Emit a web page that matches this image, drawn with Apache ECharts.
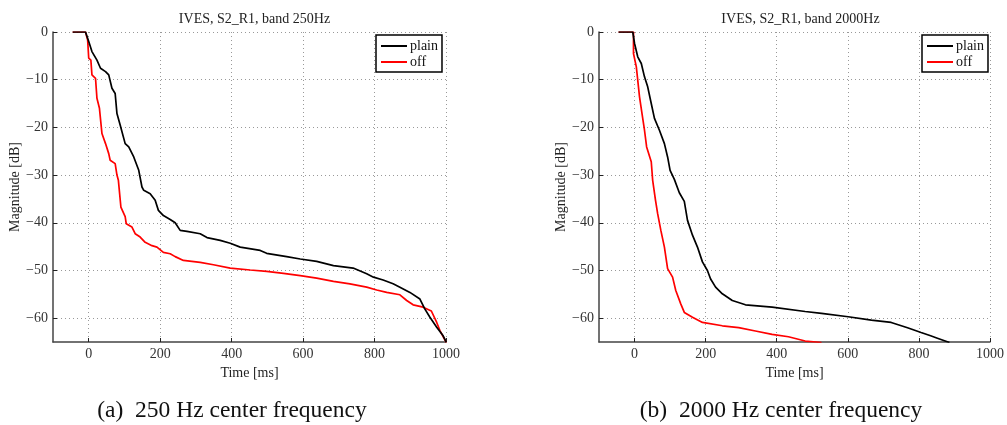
<!DOCTYPE html>
<html>
<head>
<meta charset="utf-8">
<script src="https://cdn.jsdelivr.net/npm/echarts@6/dist/echarts.min.js"></script>
<style>
html,body{margin:0;padding:0;background:#fff;}
#c{width:1007px;height:425px;}
</style>
</head>
<body>
<div id="c"></div>
<script>
// ---- Data (time in ms, magnitude in dB) ----
const titles = ['IVES, S2_R1, band 250Hz', 'IVES, S2_R1, band 2000Hz'];
const captions = ['(a)  250 Hz center frequency', '(b)  2000 Hz center frequency'];
const seriesNames = ['plain', 'off'];
const xTicks = [0, 200, 400, 600, 800, 1000];
const yTicks = [0, -10, -20, -30, -40, -50, -60];

// 250 Hz, plain
const t250Plain = [-45, -9, 0, 9, 23, 33, 47, 56, 65, 74, 79, 88, 102, 112, 126, 140, 149, 154, 172, 186, 195, 209, 228, 242, 256, 275, 312, 331, 368, 396, 424, 480, 498, 554, 592, 638, 685, 740, 778, 797, 824, 852, 871, 899, 927, 941, 955, 974, 992, 1001];
const m250Plain = [0, 0, -2.0, -4.1, -5.9, -7.6, -8.3, -9.0, -11.8, -12.9, -17.1, -19.5, -23.4, -24.1, -26.2, -29.0, -32.5, -33.2, -33.9, -35.3, -37.4, -38.5, -39.3, -40.0, -41.6, -41.8, -42.3, -43.1, -43.7, -44.3, -45.1, -45.8, -46.4, -47.1, -47.6, -48.1, -49.0, -49.5, -50.7, -51.4, -52.0, -52.8, -53.5, -54.6, -56.0, -58.1, -59.8, -61.9, -63.7, -65.1];
// 250 Hz, off
const t250Off = [-45, -9, -3, 0, 6, 9, 19, 23, 30, 37, 47, 56, 60, 74, 79, 83, 90, 102, 105, 121, 130, 144, 158, 177, 191, 209, 228, 242, 265, 312, 349, 396, 452, 498, 545, 592, 638, 685, 731, 778, 806, 834, 871, 890, 908, 936, 959, 974, 983, 1001];
const m250Off = [0, 0, -1.7, -5.5, -5.9, -9.0, -9.7, -13.9, -16.0, -21.3, -23.4, -25.5, -26.9, -27.6, -30.0, -31.1, -36.7, -38.7, -40.2, -40.9, -42.3, -43.0, -44.1, -44.8, -45.1, -46.2, -46.5, -47.1, -47.9, -48.3, -48.8, -49.5, -49.9, -50.2, -50.6, -51.1, -51.6, -52.3, -52.8, -53.5, -54.1, -54.6, -55.1, -56.3, -57.2, -57.7, -58.5, -60.9, -62.6, -65.1];

// 2000 Hz, plain
const t2kPlain = [-45, -5, 0, 9, 19, 28, 37, 47, 56, 70, 84, 93, 100, 112, 126, 140, 149, 163, 177, 191, 205, 214, 228, 247, 275, 312, 387, 480, 526, 601, 666, 722, 768, 806, 833, 852, 886];
const m2kPlain = [0, 0, -2.4, -5.2, -6.6, -9.4, -11.5, -15.0, -18.1, -20.6, -23.4, -26.2, -29.0, -30.9, -33.7, -35.5, -39.5, -42.6, -45.1, -48.2, -50.0, -51.8, -53.5, -54.9, -56.3, -57.2, -57.7, -58.6, -59.0, -59.7, -60.4, -60.9, -62.0, -63.0, -63.7, -64.2, -65.1];
// 2000 Hz, off
const t2kOff = [-45, -3, -3, 5, 9, 14, 21, 28, 34, 47, 51, 59, 65, 74, 84, 93, 107, 116, 130, 140, 163, 191, 247, 293, 340, 387, 433, 480, 526];
const m2kOff = [0, 0, -4.5, -7.3, -10.1, -13.6, -17.1, -20.6, -24.1, -27.2, -31.1, -35.3, -38.1, -41.6, -45.1, -49.6, -51.4, -54.2, -57.0, -58.8, -59.8, -60.9, -61.6, -62.0, -62.7, -63.4, -63.9, -64.8, -65.1];

const panels = [
  [[t250Plain, m250Plain], [t250Off, m250Off]],
  [[t2kPlain, m2kPlain], [t2kOff, m2kOff]]
];
const colors = ['#000000', '#ff0000'];

// ---- Build option ----
const FONT = '"Liberation Serif", "Times New Roman", serif';
const gridLefts = [53, 599];
const gridW = 393, gridTop = 32, gridH = 310;
const fmt = v => (v < 0 ? '\u2212' + Math.abs(v) : String(v));

const option = {
  animation: false,
  backgroundColor: '#fff',
  title: [], grid: [], xAxis: [], yAxis: [], legend: [], series: [],
  graphic: []
};

panels.forEach((panel, p) => {
  const L = gridLefts[p];
  option.grid.push({left: L, top: gridTop, width: gridW, height: gridH});
  option.title.push({
    text: titles[p], left: L + gridW / 2, top: 7, textAlign: 'center',
    textStyle: {fontFamily: FONT, fontSize: 14, fontWeight: 'normal', color: '#222'}
  });
  option.xAxis.push({
    type: 'value', gridIndex: p, min: -100, max: 1000,
    name: 'Time [ms]', nameLocation: 'middle', nameGap: 13,
    nameTextStyle: {fontFamily: FONT, fontSize: 14, color: '#222'},
    axisLine: {show: true, onZero: false, lineStyle: {color: '#444', width: 1.5}},
    axisTick: {show: true, inside: true, length: 4, customValues: xTicks, lineStyle: {color: '#222'}},
    axisLabel: {
      fontFamily: FONT, fontSize: 14, color: '#333', margin: 5,
      customValues: xTicks, formatter: fmt
    },
    splitLine: {show: true, lineStyle: {color: '#999', type: [1, 3], width: 1}}
  });
  option.yAxis.push({
    type: 'value', gridIndex: p, min: -65, max: 0,
    name: 'Magnitude [dB]', nameLocation: 'middle', nameGap: 26,
    nameTextStyle: {fontFamily: FONT, fontSize: 14, color: '#222'},
    axisLine: {show: true, onZero: false, lineStyle: {color: '#444', width: 1.5}},
    axisTick: {show: true, inside: true, length: 4, customValues: yTicks, lineStyle: {color: '#222'}},
    axisLabel: {
      fontFamily: FONT, fontSize: 14, color: '#333', margin: 5,
      customValues: yTicks, formatter: fmt
    },
    splitLine: {show: true, lineStyle: {color: '#999', type: [1, 3], width: 1}}
  });
  option.legend.push({
    data: seriesNames.map(n => n + (p === 0 ? '' : ' ')),
    formatter: n => n.trim(),
    orient: 'vertical', left: L + 323, top: 35,
    padding: [4, 4, 3, 5], itemGap: 2,
    icon: 'rect', itemWidth: 26, itemHeight: 2,
    backgroundColor: '#fff', borderColor: '#000', borderWidth: 1.5, borderRadius: 0,
    textStyle: {fontFamily: FONT, fontSize: 14, color: '#111', padding: [0, 0, 0, -2]}
  });
  panel.forEach((s, k) => {
    const [xs, ys] = s;
    option.series.push({
      type: 'line', name: seriesNames[k] + (p === 0 ? '' : ' '),
      xAxisIndex: p, yAxisIndex: p,
      data: xs.map((x, i) => [x, ys[i]]),
      showSymbol: false, symbol: 'none', clip: true,
      lineStyle: {color: colors[k], width: 1.7},
      itemStyle: {color: colors[k]},
      z: k === 0 ? 3 : 2
    });
  });
  option.graphic.push({
    type: 'text', x: [232, 781][p], y: 411,
    style: {text: captions[p], font: '23.5px ' + FONT, fill: '#111', align: 'center', verticalAlign: 'middle'}
  });
});

const chart = echarts.init(document.getElementById('c'), null, {renderer: 'canvas'});
chart.setOption(option);
</script>
</body>
</html>
